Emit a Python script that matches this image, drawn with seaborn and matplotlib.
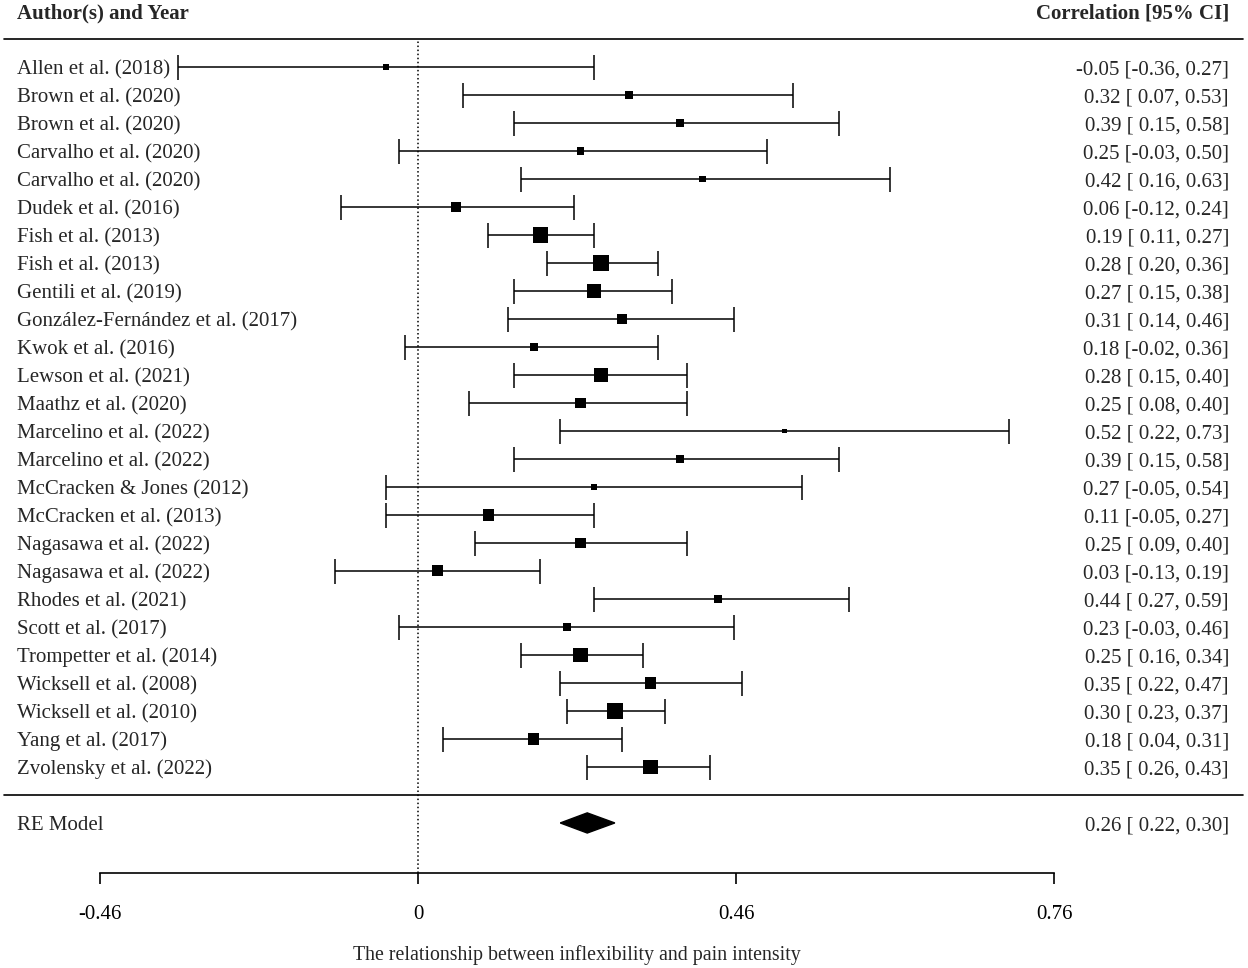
import numpy as np
import pandas as pd
import seaborn as sns
import matplotlib
matplotlib.use("Agg")
import matplotlib.pyplot as plt

# ---------- data ----------
studies = [
    "Allen et al. (2018)", "Brown et al. (2020)", "Brown et al. (2020)",
    "Carvalho et al. (2020)", "Carvalho et al. (2020)", "Dudek et al. (2016)",
    "Fish et al. (2013)", "Fish et al. (2013)", "Gentili et al. (2019)",
    "González-Fernández et al. (2017)", "Kwok et al. (2016)", "Lewson et al. (2021)",
    "Maathz et al. (2020)", "Marcelino et al. (2022)", "Marcelino et al. (2022)",
    "McCracken & Jones (2012)", "McCracken et al. (2013)", "Nagasawa et al. (2022)",
    "Nagasawa et al. (2022)", "Rhodes et al. (2021)", "Scott et al. (2017)",
    "Trompetter et al. (2014)", "Wicksell et al. (2008)", "Wicksell et al. (2010)",
    "Yang et al. (2017)", "Zvolensky et al. (2022)",
]
r = [-0.05, 0.32, 0.39, 0.25, 0.42, 0.06, 0.19, 0.28, 0.27, 0.31, 0.18, 0.28, 0.25,
     0.52, 0.39, 0.27, 0.11, 0.25, 0.03, 0.44, 0.23, 0.25, 0.35, 0.30, 0.18, 0.35]
ci_low = [-0.36, 0.07, 0.15, -0.03, 0.16, -0.12, 0.11, 0.20, 0.15, 0.14, -0.02, 0.15, 0.08,
          0.22, 0.15, -0.05, -0.05, 0.09, -0.13, 0.27, -0.03, 0.16, 0.22, 0.23, 0.04, 0.26]
ci_high = [0.27, 0.53, 0.58, 0.50, 0.63, 0.24, 0.27, 0.36, 0.38, 0.46, 0.36, 0.40, 0.40,
           0.73, 0.58, 0.54, 0.27, 0.40, 0.19, 0.59, 0.46, 0.34, 0.47, 0.37, 0.31, 0.43]
# relative weight (%)
weight = [1.1, 1.8, 1.8, 1.8, 1.5, 3.6, 8.1, 8.1, 6.1, 3.6, 2.3, 6.1, 3.6,
          0.7, 1.8, 0.9, 4.4, 3.6, 4.0, 2.3, 1.8, 7.1, 4.4, 8.1, 4.4, 7.1]

re_label = "RE Model"
re_est, re_low, re_high = 0.26, 0.22, 0.30

tick_z = [-0.5, 0.0, 0.5, 1.0]
tick_labels = ["-0.46", "0", "0.46", "0.76"]
xlabel = "The relationship between inflexibility and pain intensity"

# ---------- build table (Fisher z scale like metafor) ----------
k = len(studies)
df = pd.DataFrame({"study": studies, "r": r, "lo": ci_low, "hi": ci_high, "w": weight})
df["z"] = np.arctanh(df["r"])
df["zlo"] = np.arctanh(df["lo"])
df["zhi"] = np.arctanh(df["hi"])
df["row"] = np.arange(k, 0, -1)

sns.set_theme(style="white")
plt.rcParams["font.family"] = ["Liberation Serif", "DejaVu Serif"]
plt.rcParams["font.size"] = 15

fig = plt.figure(figsize=(12.48, 9.68), dpi=100)
ax = fig.add_axes([0, 0, 1, 1])
ax.set_xlim(-0.6572, 1.3050)
ax.set_ylim(-6.18, 28.39)

axis_row = -2.79
x_left, x_right = -0.6305, 1.275
base = 0.26  # baseline sits a little below the row centre

# reference line at 0 and separators
ax.vlines(0, axis_row, k + 1, colors="black", linestyles=":", linewidth=1.1)
ax.axhline(k + 1, xmin=0.003, xmax=0.996, color="black", linewidth=1.2)
ax.axhline(0, xmin=0.003, xmax=0.996, color="black", linewidth=1.2)

# confidence intervals
ax.errorbar(df["z"], df["row"], xerr=[df["z"] - df["zlo"], df["zhi"] - df["z"]],
            fmt="none", ecolor="black", elinewidth=1.1, capsize=9, capthick=1.1, zorder=2)

# boxes sized by weight
wmin, wmax = min(weight), max(weight)
k_area = 15.5
sns.scatterplot(data=df, x="z", y="row", size="w", sizes=(wmin * k_area, wmax * k_area),
                size_norm=(wmin, wmax), marker="s", color="black", linewidth=0,
                legend=False, ax=ax, zorder=3)

# summary diamond
zc, zl, zh = np.arctanh([re_est, re_low, re_high])
h = 0.36
ax.fill([zl, zc, zh, zc], [-1, -1 + h, -1, -1 - h], color="black", zorder=3)

# text columns
for _, row in df.iterrows():
    ax.text(x_left, row["row"] - base, row["study"], ha="left", va="baseline", fontsize=15)
    ax.text(x_right, row["row"] - base,
            f"{row['r']:.2f} [{row['lo']:5.2f}, {row['hi']:.2f}]",
            ha="right", va="baseline", fontsize=15)
ax.text(x_left, -1 - base, re_label, ha="left", va="baseline", fontsize=15)
ax.text(x_right, -1 - base, f"{re_est:.2f} [{re_low:5.2f}, {re_high:.2f}]",
        ha="right", va="baseline", fontsize=15)
ax.text(x_left, k + 2 - base, "Author(s) and Year", ha="left", va="baseline",
        fontsize=15, fontweight="bold")
ax.text(x_right, k + 2 - base, "Correlation [95% CI]", ha="right", va="baseline",
        fontsize=15, fontweight="bold")

# bottom axis
for side in ["top", "left", "right"]:
    ax.spines[side].set_visible(False)
ax.spines["bottom"].set_position(("data", axis_row))
ax.spines["bottom"].set_bounds(tick_z[0], tick_z[-1])
ax.spines["bottom"].set_color("black")
ax.spines["bottom"].set_linewidth(1.2)
ax.set_xticks(tick_z)
ax.set_xticklabels(tick_labels)
ax.set_yticks([])
ax.tick_params(axis="x", direction="out", length=8, width=1.2, pad=15,
               labelsize=15, colors="black", bottom=True)
ax.set_xlabel("")
ax.set_ylabel("")
ax.text((tick_z[0] + tick_z[-1]) / 2, -5.64 - base, xlabel, ha="center", va="baseline",
        fontsize=14.3)

fig.savefig("out.png", dpi=100, facecolor="white")
